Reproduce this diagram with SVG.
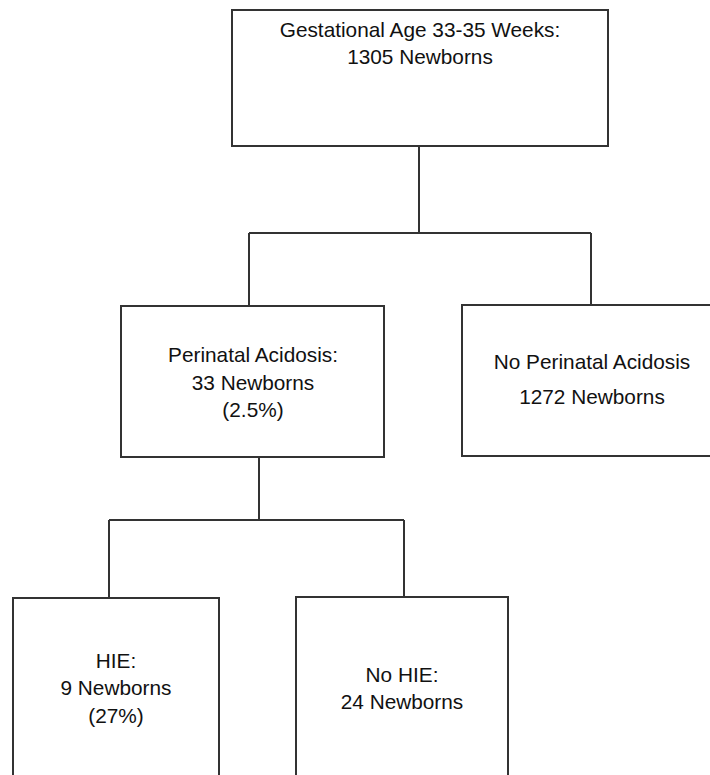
<svg xmlns="http://www.w3.org/2000/svg" width="710" height="775" viewBox="0 0 710 775">
<style>
.box{fill:#fff;stroke:#333;stroke-width:2}
.ln{fill:none;stroke:#333;stroke-width:2}
text{font-family:"Liberation Sans",Arial,sans-serif;font-size:20.8px;fill:#111;text-anchor:middle}
</style>
<rect width="710" height="775" fill="#fff"/>
<g id="connectors">
<path class="ln" d="M419,146 V233 M249,233 H591 M249,233 V306 M591,233 V305"/>
<path class="ln" d="M259,457 V520 M109,520 H404 M109,520 V598 M404,520 V597"/>
</g>
<g id="n_top">
<rect class="box" x="232" y="10" width="376" height="136"/>
<text x="420" y="37">Gestational Age 33-35 Weeks:</text>
<text x="420" y="64">1305 Newborns</text>
</g>
<g id="n_acidosis">
<rect class="box" x="121" y="306" width="263" height="151"/>
<text x="253" y="362">Perinatal Acidosis:</text>
<text x="253" y="390">33 Newborns</text>
<text x="253" y="417">(2.5%)</text>
</g>
<g id="n_noacidosis">
<rect class="box" x="462" y="305" width="260" height="151"/>
<text x="592" y="369">No Perinatal Acidosis</text>
<text x="592" y="404">1272 Newborns</text>
</g>
<g id="n_hie">
<rect class="box" x="13" y="598" width="206" height="190"/>
<text x="116" y="668">HIE:</text>
<text x="116" y="695">9 Newborns</text>
<text x="116" y="723">(27%)</text>
</g>
<g id="n_nohie">
<rect class="box" x="296" y="597" width="212" height="190"/>
<text x="402" y="682">No HIE:</text>
<text x="402" y="709">24 Newborns</text>
</g>
</svg>
